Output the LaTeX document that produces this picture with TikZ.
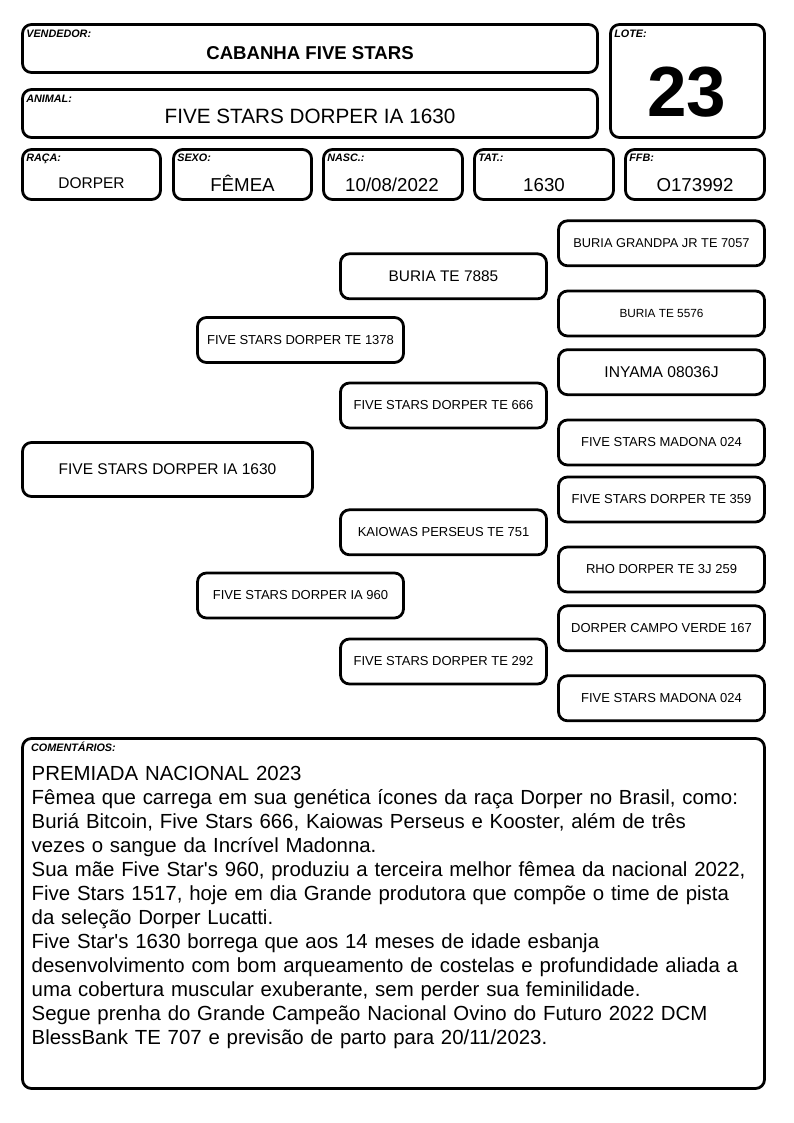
\documentclass[tikz,border=0pt]{standalone}
\usepackage{fontspec}
\setmainfont{Liberation Sans}
\def\tam#1{\fontsize{#1}{#1}\selectfont}

\begin{document}
\begin{tikzpicture}[x=1pt,y=-1pt,
    caixa/.style={draw,line width=2.8pt,rounded corners=9pt,inner sep=0pt},
    ped/.style={caixa,minimum width=206pt,minimum height=45pt,font=\tam{13}},
    rotulo/.style={anchor=base west,inner sep=0pt,font=\tam{10.8}\bfseries\itshape},
    valor/.style={anchor=base,inner sep=0pt,font=\tam{18.7}}]
    \useasboundingbox (0,0) rectangle (794,1123);
    \fill[white] (0,0) rectangle (794,1123);
    % cabecalho
    \node[caixa,minimum width=575pt,minimum height=48pt] (vend) at (310,48.5) {};
    \node[rotulo] (vend-r) at ([shift={(5,14.5)}]vend.north west) {VENDEDOR:};
    \node[valor,font=\tam{18.6}\bfseries] (vend-v) at (310,60) {CABANHA FIVE STARS};
    \node[caixa,minimum width=575pt,minimum height=48pt] (anim) at (310,113.5) {};
    \node[rotulo] (anim-r) at ([shift={(5,14.5)}]anim.north west) {ANIMAL:};
    \node[valor,font=\tam{20.7}] (anim-v) at (310,123.3) {FIVE STARS DORPER IA 1630};
    \node[caixa,minimum width=154pt,minimum height=113pt] (lote) at (687.5,81) {};
    \node[rotulo] (lote-r) at ([shift={(5,14.5)}]lote.north west) {LOTE:};
    \node[valor,font=\tam{71}\bfseries] (lote-v) at (687,116.7) {23};
    % dados
    \node[caixa,minimum width=138pt,minimum height=50pt] (raca) at (91.5,174.5) {};
    \node[rotulo] (raca-r) at ([shift={(5,13.6)}]raca.north west) {RAÇA:};
    \node[valor,font=\tam{15.5}] (raca-v) at (91.5,188.3) {DORPER};
    \node[caixa,minimum width=138pt,minimum height=50pt] (sexo) at (242.5,174.5) {};
    \node[rotulo] (sexo-r) at ([shift={(5,13.6)}]sexo.north west) {SEXO:};
    \node[valor] (sexo-v) at (242.5,192) {FÊMEA};
    \node[caixa,minimum width=139pt,minimum height=50pt] (nasc) at (393,174.5) {};
    \node[rotulo] (nasc-r) at ([shift={(5,13.6)}]nasc.north west) {NASC.:};
    \node[valor] (nasc-v) at (392,192) {10/08/2022};
    \node[caixa,minimum width=139pt,minimum height=50pt] (tat) at (544,174.5) {};
    \node[rotulo] (tat-r) at ([shift={(5,13.6)}]tat.north west) {TAT.:};
    \node[valor] (tat-v) at (544,192) {1630};
    \node[caixa,minimum width=139pt,minimum height=50pt] (ffb) at (695,174.5) {};
    \node[rotulo] (ffb-r) at ([shift={(5,13.6)}]ffb.north west) {FFB:};
    \node[valor] (ffb-v) at (695,192) {O173992};
    % genealogia
    \node[ped,minimum width=290pt,minimum height=54pt,font=\tam{15.5}] (ia1630) at (167.5,469.5) {FIVE STARS DORPER IA 1630};
    \node[ped] (te1378) at (300.5,340) {FIVE STARS DORPER TE 1378};
    \node[ped] (ia960) at (300.5,595.5) {FIVE STARS DORPER IA 960};
    \node[ped,font=\tam{15.4}] (te7885) at (443.5,276.3) {BURIA TE 7885};
    \node[ped] (te666) at (443.5,405.5) {FIVE STARS DORPER TE 666};
    \node[ped] (te751) at (443.5,532.3) {KAIOWAS PERSEUS TE 751};
    \node[ped] (te292) at (443.5,661.5) {FIVE STARS DORPER TE 292};
    \node[ped,font=\tam{12.8}] (te7057) at (661.5,243.3) {BURIA GRANDPA JR TE 7057};
    \node[ped,font=\tam{11.8}] (te5576) at (661.5,313.5) {BURIA TE 5576};
    \node[ped,font=\tam{15.6}] (inyama) at (661.5,372.2) {INYAMA 08036J};
    \node[ped] (madona1) at (661.5,442.5) {FIVE STARS MADONA 024};
    \node[ped] (te359) at (661.5,499.5) {FIVE STARS DORPER TE 359};
    \node[ped] (rho) at (661.5,569.5) {RHO DORPER TE 3J 259};
    \node[ped] (campo) at (661.5,628.3) {DORPER CAMPO VERDE 167};
    \node[ped] (madona2) at (661.5,698.3) {FIVE STARS MADONA 024};
    % comentarios
    \node[caixa,minimum width=742pt,minimum height=350pt] (coment) at (393.5,913.5) {};
    \node[rotulo] (coment-r) at (31,751.7) {COMENTÁRIOS:};
    \node[anchor=base west,inner sep=0pt,text width=740pt,align=left,
        font={\fontsize{20.4}{24}\selectfont}] (coment-t) at (31.5,780.7) {PREMIADA NACIONAL 2023\\
        Fêmea que carrega em sua genética ícones da raça Dorper no Brasil, como:\\
        Buriá Bitcoin, Five Stars 666, Kaiowas Perseus e Kooster, além de três\\
        vezes o sangue da Incrível Madonna.\\
        Sua mãe Five Star\textquotesingle s 960, produziu a terceira melhor fêmea da nacional 2022,\\
        Five Stars 1517, hoje em dia Grande produtora que compõe o time de pista\\
        da seleção Dorper Lucatti.\\
        Five Star\textquotesingle s 1630 borrega que aos 14 meses de idade esbanja\\
        desenvolvimento com bom arqueamento de costelas e profundidade aliada a\\
        uma cobertura muscular exuberante, sem perder sua feminilidade.\\
        Segue prenha do Grande Campeão Nacional Ovino do Futuro 2022 DCM\\
        BlessBank TE 707 e previsão de parto para 20/11/2023.};
\end{tikzpicture}
\end{document}
